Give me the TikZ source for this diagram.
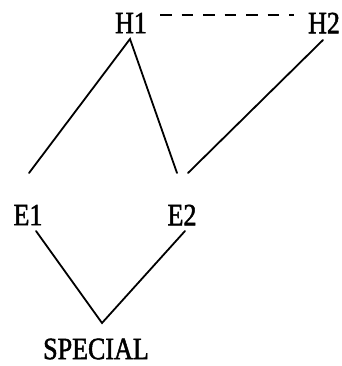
\documentclass[tikz,border=0pt]{standalone}
\usepackage{fontspec}
\setmainfont{Liberation Serif}
\newfontfamily\lblfont[FakeStretch=0.84,FakeBold=1.6]{Liberation Serif}
\begin{document}
\begin{tikzpicture}[x=1pt,y=-1pt,
  lbl/.style={inner sep=0pt,outer sep=0pt,anchor=center,font=\fontsize{31}{31}\lblfont},
  conn/.style={line width=1.8pt,line cap=round},
  dconn/.style={line width=2.4pt,dash pattern=on 11.5pt off 10pt}]
\useasboundingbox (0,0) rectangle (341,366);
% labels
\node[lbl] (H1) at (131,23) {H1};
\node[lbl] (H2) at (324,23) {H2};
\node[lbl] (E1) at (28,215) {E1};
\node[lbl] (E2) at (182,215) {E2};
\node[lbl] (SP) at (96,349) {SPECIAL};
% connector end points
\coordinate (h1e) at (160,15);
\coordinate (h2w) at (294,15);
\coordinate (h1s) at (130,39);
\coordinate (h2s) at (323,40);
\coordinate (e1n) at (29,173);
\coordinate (e2nl) at (177,173);
\coordinate (e2nr) at (188,173);
\coordinate (e1s) at (36,231);
\coordinate (e2s) at (185,231);
\coordinate (spn) at (102,323);
% connectors
\draw[dconn] (h1e) -- (h2w);
\draw[conn] (e1n) -- (h1s) -- (e2nl);
\draw[conn] (e2nr) -- (h2s);
\draw[conn] (e1s) -- (spn) -- (e2s);
\end{tikzpicture}
\end{document}
